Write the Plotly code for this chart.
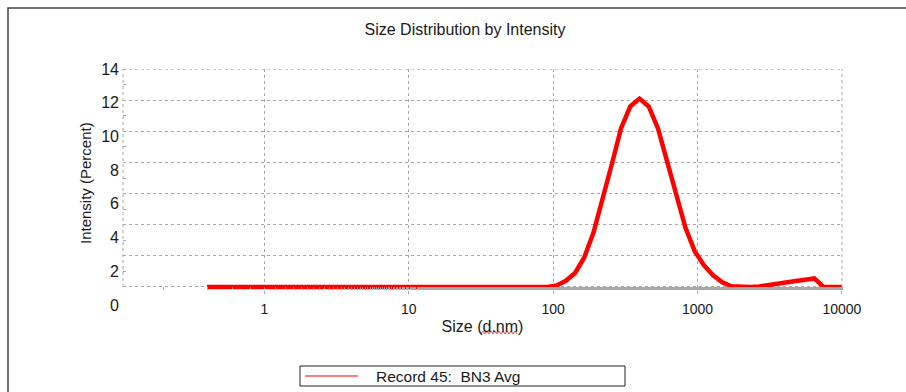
import plotly.graph_objects as go

# Size bins (d.nm) and intensity (%) for the averaged record
sizes_nm = [0.4, 0.4632, 0.5365, 0.6213, 0.7195, 0.8332, 0.9649,
            1.117, 1.294, 1.499, 1.736, 2.010, 2.328, 2.696, 3.122, 3.615,
            4.187, 4.849, 5.615, 6.503, 7.531, 8.721,
            10.10, 11.70, 13.54, 15.69, 18.17, 21.04, 24.36, 28.21, 32.67,
            37.84, 43.82, 50.75, 58.77, 68.06, 78.82, 91.28,
            105.7, 122.4, 141.8, 164.2, 190.1, 220.2, 255.0, 295.3, 342.0,
            396.1, 458.7, 531.2, 615.1, 712.4, 825.0, 955.4,
            1106, 1281, 1484, 1718, 1990, 2305, 2669, 3091, 3580, 4145,
            4801, 5560, 6439, 7456, 8635, 10000]
intensity_pct = [0.0] * 38 + [
    0.1, 0.4, 0.9, 1.9, 3.5, 5.6, 7.9, 10.2, 11.6,
    12.1, 11.6, 10.2, 8.0, 5.9, 3.8, 2.3,
    1.4, 0.75, 0.3, 0.05, 0.0, 0.0, 0.03, 0.1, 0.18, 0.28,
    0.38, 0.47, 0.55, 0.0, 0.0, 0.0]

x_ticks = [1, 10, 100, 1000, 10000]
x_tick_text = ["1", "10", "100", "1000", "10000"]
y_ticks = [0, 2, 4, 6, 8, 10, 12, 14]
y_tick_text = [str(v) for v in y_ticks]

series_name = "Record 45:  BN3 Avg"
RED = "#ff0000"
GRID = "#a8a8a8"
TXT = "#1a1a1a"
FONT = "Liberation Sans, Arial, sans-serif"

W, H = 906, 392
M_L, M_R, M_T, M_B = 123, 64, 69, 82
PW, PH = W - M_L - M_R, H - M_T - M_B


def px_x(p):
    return (p - M_L) / PW


def px_y(p):
    return (H - M_B - p) / PH


fig = go.Figure()

fig.add_trace(go.Scatter(
    x=sizes_nm, y=intensity_pct, mode="lines", name=series_name,
    line=dict(color=RED, width=4.5, shape="linear"),
    showlegend=False, hoverinfo="x+y",
))
# empty carrier so the label axis (y2) gets drawn on its own subplot
fig.add_trace(go.Scatter(
    x=[None], y=[None], xaxis="x2", yaxis="y2", showlegend=False,
    hoverinfo="skip",
))

fig.update_layout(
    width=W, height=H,
    margin=dict(l=M_L, r=M_R, t=M_T, b=M_B, autoexpand=False),
    paper_bgcolor="white", plot_bgcolor="rgba(0,0,0,0)",
    font=dict(family=FONT, color=TXT, size=13),
    showlegend=False,
    title=dict(text="Size Distribution by Intensity", x=px_x(465), xref="paper",
               xanchor="center", y=1 - 29 / H, yanchor="middle",
               font=dict(size=16, color=TXT)),
    xaxis=dict(
        type="log", range=[-0.98, 4.0005],
        tickvals=x_ticks, ticktext=x_tick_text,
        showgrid=True, gridcolor=GRID, griddash="dot", gridwidth=1,
        showline=False, zeroline=False,
        ticks="outside", ticklen=3, tickcolor=GRID,
        ticklabelstandoff=3,
        tickfont=dict(size=14, color=TXT),
        minor=dict(ticks="inside", ticklen=3, tickcolor=GRID, showgrid=False),
        title=dict(text="Size (d.nm)", standoff=4,
                   font=dict(size=16, color=TXT)),
        anchor="y",
    ),
    yaxis=dict(
        range=[-0.2, 14.005], domain=[px_y(290.1), 1],
        tickvals=y_ticks, showticklabels=False,
        showgrid=True, gridcolor=GRID, griddash="dot", gridwidth=1,
        zeroline=False, showline=False, ticks="",
        minor=dict(ticks="inside", ticklen=3, tickcolor=GRID, dtick=1,
                   showgrid=False),
    ),
    xaxis2=dict(visible=False, range=[0, 1], anchor="y2"),
    yaxis2=dict(
        range=[-(H - M_B - 305) / ((305 - 69) / 14), 14.0], domain=[0, 1],
        anchor="free", position=0,
        tickvals=y_ticks, ticktext=y_tick_text,
        showgrid=False, zeroline=False, showline=False, ticks="",
        tickfont=dict(size=16, color=TXT),
        ticklabelstandoff=4,
    ),
)

# plot-area edges drawn as dotted rules (left, top, right)
dotted = dict(color=GRID, width=1, dash="dot")
fig.add_shape(type="line", xref="paper", yref="y", x0=0, x1=0, y0=0, y1=14,
              line=dotted)
fig.add_shape(type="line", xref="paper", yref="y", x0=1, x1=1, y0=0, y1=14,
              line=dotted)
fig.add_shape(type="line", xref="paper", yref="y", x0=0, x1=1, y0=14, y1=14,
              line=dotted)

# outer frame
fig.add_shape(type="rect", xref="paper", yref="paper",
              x0=px_x(8), x1=px_x(W + 5), y0=px_y(H + 5), y1=px_y(8),
              line=dict(color="#404040", width=1.5), layer="below")

# spell-check squiggle under "d.nm"
wave_x0, wave_x1, wave_y = 479, 518, 332.5
pts = []
step = 2.0
k = 0
xp = wave_x0
while xp <= wave_x1:
    yp = wave_y + (1.3 if k % 2 else -1.3)
    pts.append(f"{px_x(xp):.5f},{px_y(yp):.5f}")
    xp += step
    k += 1
fig.add_shape(type="path", xref="paper", yref="paper",
              path="M " + " L ".join(pts),
              line=dict(color="#e03030", width=1))

# legend box
fig.add_shape(type="rect", xref="paper", yref="paper",
              x0=px_x(300), x1=px_x(625), y0=px_y(386), y1=px_y(366),
              line=dict(color="#222222", width=1), fillcolor="white")
fig.add_shape(type="line", xref="paper", yref="paper",
              x0=px_x(305), x1=px_x(358), y0=px_y(376), y1=px_y(376),
              line=dict(color=RED, width=1.2))
fig.add_annotation(text=series_name, xref="paper", yref="paper",
                   x=px_x(374), y=px_y(376.5), xanchor="left", yanchor="middle",
                   showarrow=False, font=dict(size=15.5, color=TXT))

fig.add_annotation(text="Intensity (Percent)", textangle=-90,
                   xref="paper", yref="paper", x=px_x(85), y=px_y(183),
                   xanchor="center", yanchor="middle", showarrow=False,
                   font=dict(size=15, color=TXT))

fig.write_html("out.html")
